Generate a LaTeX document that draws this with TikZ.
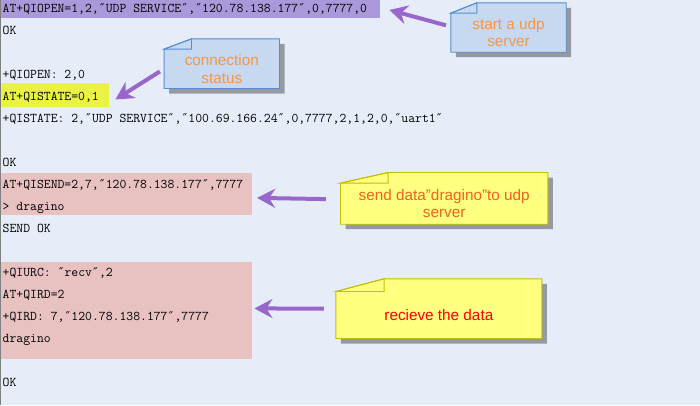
\documentclass[tikz,border=0pt]{standalone}
\usepackage{fontspec}
\setmainfont{Liberation Sans}
\newfontfamily\primefont{DejaVu Sans Mono}
\newcommand{\dq}{\makebox[7pt]{\primefont\fontsize{12}{16}\selectfont ″}}
\usetikzlibrary{arrows.meta, calc, positioning, shadows}

\definecolor{screenbg}{RGB}{230,237,248}
\definecolor{openhl}{RGB}{170,153,218}
\definecolor{statehl}{RGB}{234,242,70}
\definecolor{datahl}{RGB}{232,193,193}
\definecolor{arrowpurple}{RGB}{153,102,204}
\definecolor{bluefill}{RGB}{198,217,241}
\definecolor{blueline}{RGB}{85,142,213}
\definecolor{bluetext}{RGB}{247,150,70}
\definecolor{yellowfill}{RGB}{255,255,128}
\definecolor{yellowline}{RGB}{192,192,0}
\definecolor{sendtext}{RGB}{240,98,30}

\pgfdeclarelayer{back}
\pgfsetlayers{back,main}

\begin{document}
\begin{tikzpicture}[x=1pt, y=-1pt,
	term/.style={anchor=base west, inner sep=0pt, font=\ttfamily\fontsize{13.33}{16}\selectfont},
	hilite/.style={anchor=north west, inner sep=0pt, draw=none},
	notetext/.style={inner sep=0pt, align=center, font=\fontsize{15.3}{17.5}\selectfont},
	notebox/.style={line width=0.9pt, drop shadow={shadow xshift=5pt, shadow yshift=-5pt, fill=black, opacity=0.35}},
	bluenote/.style={notebox, draw=blueline, fill=bluefill},
	yellownote/.style={notebox, draw=yellowline, fill=yellowfill},
	callout/.style={draw=arrowpurple, line width=4pt, -{Stealth[length=18pt, width=19pt, inset=6pt]}}
]

\useasboundingbox (0,0) rectangle (700,405);
\begin{pgfonlayer}{back}
	\fill [screenbg] (0,0) rectangle (700,405);
\end{pgfonlayer}

% highlighted rows
\node [hilite, fill=openhl, minimum width=380pt, minimum height=17.5pt] (h0) at (0,0) {};
\node [hilite, fill=statehl, minimum width=109pt, minimum height=24pt] (h4) at (0,83) {};
\node [hilite, fill=datahl, minimum width=252pt, minimum height=42pt] (h8) at (0,172.5) {};
\node [hilite, fill=datahl, minimum width=252pt, minimum height=96.5pt] (h12) at (0,262) {};

% console rows
\node [term] (r0) at (2.5,12.7) {AT+QIOPEN=1,2,\dq UDP SERVICE\dq,\dq 120.78.138.177\dq,0,7777,0};
\node [term] (r1) at (2.5,34.7) {OK};
\node [term] (r3) at (2.5,78.7) {+QIOPEN: 2,0};
\node [term] (r4) at (2.5,100) {AT+QISTATE=0,1};
\node [term] (r5) at (2.5,122.7) {+QISTATE: 2,\dq UDP SERVICE\dq,\dq 100.69.166.24\dq,0,7777,2,1,2,0,\dq uart1\dq};
\node [term] (r7) at (2.5,166.7) {OK};
\node [term] (r8) at (2.5,188.7) {AT+QISEND=2,7,\dq 120.78.138.177\dq,7777};
\node [term] (r9) at (2.5,210.7) {> dragino};
\node [term] (r10) at (2.5,232.7) {SEND OK};
\node [term] (r12) at (2.5,276.7) {+QIURC: \dq recv\dq,2};
\node [term] (r13) at (2.5,298.7) {AT+QIRD=2};
\node [term] (r14) at (2.5,320.7) {+QIRD: 7,\dq 120.78.138.177\dq,7777};
\node [term] (r15) at (2.5,342.7) {dragino};
\node [term] (r17) at (2.5,386.7) {OK};

\draw [gray, line width=1pt] (0.5,0) -- (0.5,405);

% notes
\node [notetext, text=bluetext, minimum width=115pt, minimum height=38.7pt] (n1) at (508.5,32.65) {start a udp\\server};
\node [notetext, text=bluetext, minimum width=115pt, minimum height=39pt] (n2) at (221.8,68.8) {connection\\status};
\node [notetext, text=sendtext, minimum width=207pt, minimum height=40.7pt] (n3) at (444.2,203.65) {send data"dragino"to udp\\server};
\node [notetext, text=red, minimum width=205.7pt, minimum height=46.6pt] (n4) at (438.85,315) {recieve the data};

\begin{pgfonlayer}{back}
	\path [bluenote] (n1.north west) -- ++(26,-10.3) -| (n1.north east) |- (n1.south west) -- cycle;
	\draw [blueline, line width=0.9pt] (n1.north west) -- ++(26,-10.3) -- ++(0,10.3) -- cycle;
	\path [bluenote] (n2.north west) -- ++(27.4,-10.3) -| (n2.north east) |- (n2.south west) -- cycle;
	\draw [blueline, line width=0.9pt] (n2.north west) -- ++(27.4,-10.3) -- ++(0,10.3) -- cycle;
	\path [yellownote] (n3.north west) -- ++(47.6,-10.6) -| (n3.north east) |- (n3.south west) -- cycle;
	\draw [yellowline, line width=0.9pt] (n3.north west) -- ++(47.6,-10.6) -- ++(0,10.6) -- cycle;
	\path [yellownote] (n4.north west) -- ++(48.3,-12.7) -| (n4.north east) |- (n4.south west) -- cycle;
	\draw [yellowline, line width=0.9pt] (n4.north west) -- ++(48.3,-12.7) -- ++(0,12.7) -- cycle;
\end{pgfonlayer}

% pointers
\draw [callout, shorten <=5pt] ([yshift=6pt]n1.west) -- ($(h0.east)+(9,1)$);
\draw [callout, shorten <=5pt] (n2.west) -- ($(h4.east)+(6,4.3)$);
\draw [callout, shorten <=14.7pt] ([yshift=4.3pt]n3.west) -- ($(h8.east)+(4.7,4.2)$);
\draw [callout, shorten <=12pt] ([yshift=6.4pt]n4.west) -- ($(h12.east)+(2,-2)$);

\end{tikzpicture}
\end{document}
